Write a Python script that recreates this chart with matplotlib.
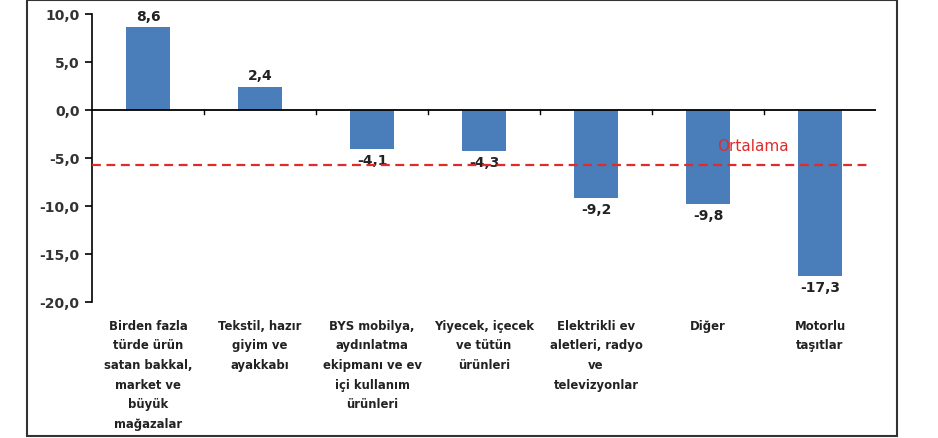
import matplotlib
matplotlib.use('Agg')
import matplotlib.pyplot as plt
import matplotlib.patches as mpatches
import matplotlib.transforms as mtransforms
import numpy as np

categories = ['Birden fazla\ntürde ürün\nsatan bakkal,\nmarket ve\nbüyük\nmağazalar',
              'Tekstil, hazır\ngiyim ve\nayakkabı',
              'BYS mobilya,\naydınlatma\nekipmanı ve ev\niçi kullanım\nürünleri',
              'Yiyecek, içecek\nve tütün\nürünleri',
              'Elektrikli ev\naletleri, radyo\nve\ntelevizyonlar',
              'Diğer',
              'Motorlu\ntaşıtlar']
values = [8.6, 2.4, -4.1, -4.3, -9.2, -9.8, -17.3]
average = -5.8
yticks = [10, 5, 0, -5, -10, -15, -20]

BAR_COLOR = '#4a7ebb'
RED = '#e02b2b'

plt.rcParams['font.family'] = ['DejaVu Sans']

fig = plt.figure(figsize=(9.38, 4.39), dpi=100)
ax = fig.add_axes([92/938, 1-303/439, 784/938, (303-14.5)/439])

x = np.arange(len(values))
ax.bar(x, values, width=0.4, color=BAR_COLOR, zorder=2)
ax.set_xlim(-0.5, len(values)-0.5)
ax.set_ylim(-20, 10)

# zero line with category separators
ax.axhline(0, color='black', lw=1.3, zorder=3)
for sep in np.arange(0.5, len(values)-0.5, 1):
    ax.plot([sep, sep], [0, -0.5], color='black', lw=1, zorder=3)

ax.axhline(average, xmax=0.995, color=RED, lw=1.6, ls=(0, (4, 2.5)), zorder=4)
ax.text(5.08, average+1.6, 'Ortalama', color=RED, fontsize=11, zorder=5)

for xi, v in zip(x, values):
    lab = '{:.1f}'.format(v).replace('.', ',')
    off = 3 if v > 0 else -3
    ax.annotate(lab, (xi, v), xytext=(0, off), textcoords='offset points',
                ha='center', va='bottom' if v > 0 else 'top',
                fontsize=10, fontweight='bold', color='#222222')

trans = mtransforms.blended_transform_factory(ax.transData, ax.transAxes)
for xi, c in zip(x, categories):
    ax.text(xi, -0.058, c, transform=trans, ha='center', va='top',
            fontsize=8.4, fontweight='bold', color='#222222', linespacing=1.66)

ax.set_yticks(yticks)
ax.set_yticklabels(['{:.1f}'.format(t).replace('.', ',') for t in yticks],
                   fontsize=10, fontweight='bold', color='#333333')
ax.set_xticks([])
for s in ['top', 'right', 'bottom']:
    ax.spines[s].set_visible(False)
ax.spines['left'].set_linewidth(1.2)
ax.tick_params(axis='y', length=5, width=1.2, pad=4)

fig.patches.append(mpatches.Rectangle((27/938, 2/439), 870/938, 436/439,
                                      transform=fig.transFigure, fill=False,
                                      edgecolor='#333333', lw=1.5))

fig.savefig('out.png', dpi=100)
